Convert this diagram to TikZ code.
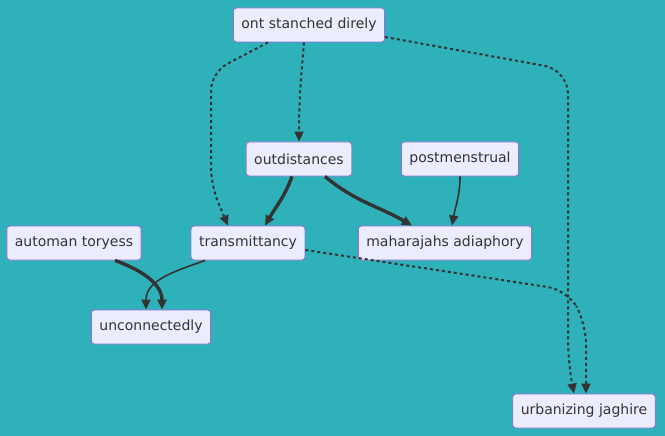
\documentclass[tikz,border=0pt]{standalone}
\usepackage{fontspec}
\setmainfont{DejaVu Sans}
\usepackage{xcolor}
\usetikzlibrary{arrows.meta,positioning}
\definecolor{MerTeal}{HTML}{2EB1B9}
\definecolor{MerFill}{HTML}{ECECFF}
\definecolor{MerEdge}{HTML}{9370DB}
\definecolor{MerInk}{HTML}{333333}

\begin{document}
\begin{tikzpicture}[
  x=1pt, y=-1pt,
  box/.style={draw=MerEdge, rounded corners=3pt, fill=MerFill, minimum height=34pt, inner xsep=8pt, inner ysep=0pt, text=MerInk, font=\fontsize{14}{16}\selectfont, line width=0.9pt},
  arrow/.style={-{Triangle[length=10pt,width=9pt]}, line width=1.6pt, draw=MerInk},
  bold/.style={arrow, line width=3.4pt},
  dotted arrow/.style={arrow, line width=2pt, dash pattern=on 3pt off 3pt}
]
  \useasboundingbox (0,0) rectangle (665,436);
  \fill[MerTeal] (0,0) rectangle (665,436);

  \node[box] (ont) at (309,25) {ont stanched direly};
  \node[box] (outdist) at (299,159) {outdistances};
  \node[box] (postmen) at (460,159) {postmenstrual};
  \node[box] (automan) at (74,243) {automan toryess};
  \node[box] (transm) at (248,243) {transmittancy};
  \node[box] (mahar) at (445,243) {maharajahs adiaphory};
  \node[box] (unconn) at (151,327) {unconnectedly};
  \node[box] (urban) at (584,411) {urbanizing jaghire};

  % dotted links from the top node
  \draw[dotted arrow] ([xshift=-5pt]ont.south) to[out=-95,in=90] (outdist.north);
  \draw[dotted arrow, rounded corners=18pt] ([xshift=-41pt]ont.south) -- ([xshift=-98pt,yshift=-30pt]ont.south) -- ([xshift=-37pt,yshift=40pt]transm.north) -- ([xshift=-20pt]transm.north);
  \draw[dotted arrow, rounded corners=24pt] ([yshift=-12pt]ont.east) -- ([xshift=183pt,yshift=-45pt]ont.east) -- ([xshift=-16pt,yshift=30pt]urban.north) -- ([xshift=-10pt]urban.north);

  % solid links
  \draw[bold] ([xshift=-7pt]outdist.south) to[out=-110,in=60] ([xshift=17pt]transm.north);
  \draw[bold] ([xshift=26pt]outdist.south) to[out=-40,in=150] ([xshift=-33pt]mahar.north);
  \draw[arrow] (postmen.south) to[out=-90,in=80] ([xshift=7pt]mahar.north);
  \draw[bold] ([xshift=41pt]automan.south) to[out=-20,in=90] ([xshift=11pt]unconn.north);
  \draw[arrow] ([xshift=-43pt]transm.south) to[out=-160,in=90] ([xshift=-5pt]unconn.north);
  \draw[dotted arrow, rounded corners=20pt] ([yshift=-7pt]transm.east) -- ([xshift=262pt,yshift=-47pt]transm.east) -- ([xshift=2pt,yshift=70pt]urban.north) -- ([xshift=2pt]urban.north);
\end{tikzpicture}
\end{document}
